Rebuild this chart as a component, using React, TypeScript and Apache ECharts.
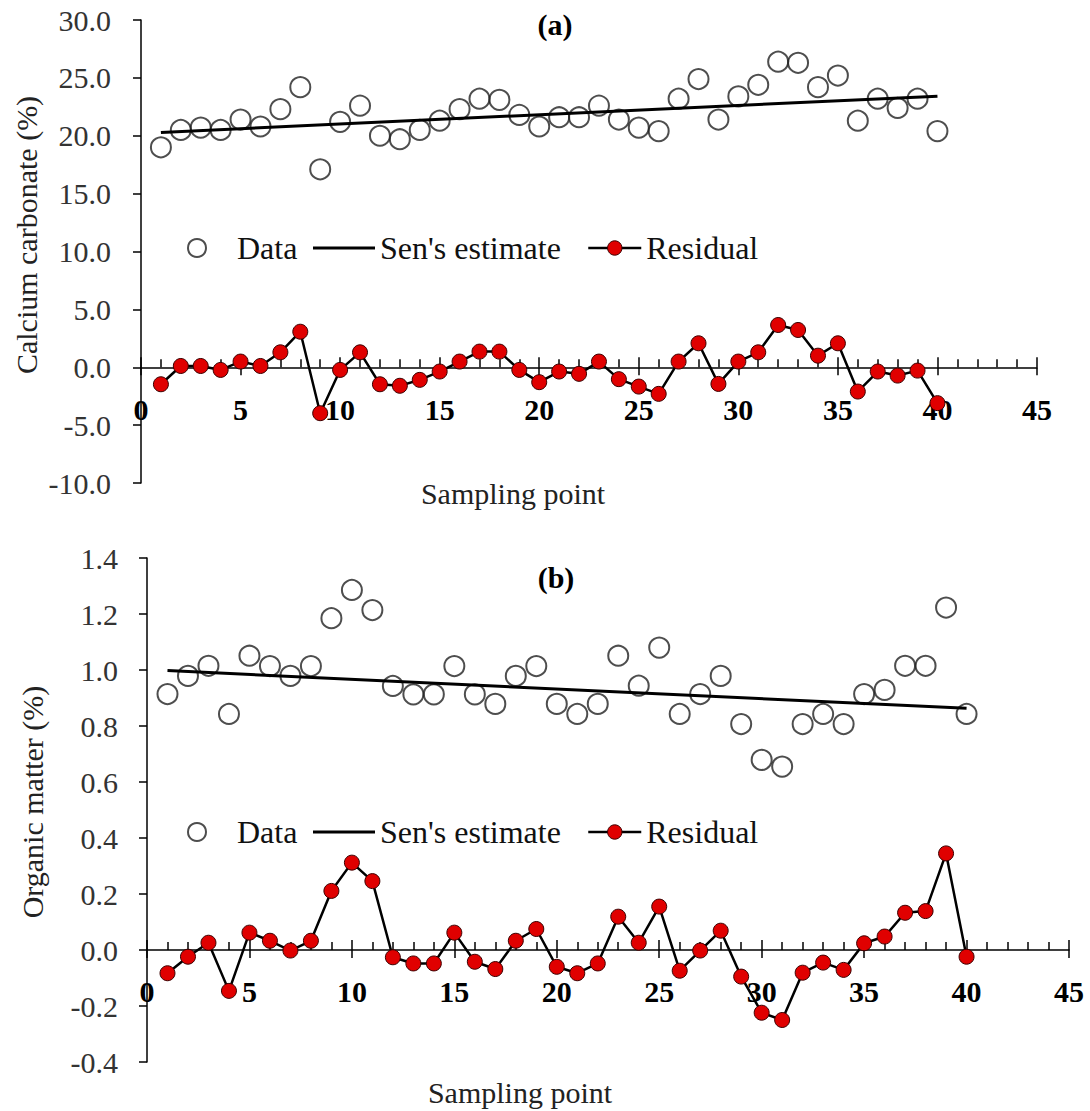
import React, { useEffect, useRef } from "react";
import * as echarts from "echarts";

const samplingPoints = [1, 2, 3, 4, 5, 6, 7, 8, 9, 10, 11, 12, 13, 14, 15, 16, 17, 18, 19, 20, 21, 22, 23, 24, 25, 26, 27, 28, 29, 30, 31, 32, 33, 34, 35, 36, 37, 38, 39, 40];

const caco3Data = [19.0, 20.5, 20.7, 20.5, 21.4, 20.8, 22.3, 24.2, 17.1, 21.2, 22.6, 20.0, 19.7, 20.5, 21.3, 22.3, 23.2, 23.1, 21.8, 20.8, 21.6, 21.6, 22.6, 21.4, 20.7, 20.4, 23.2, 24.9, 21.4, 23.4, 24.4, 26.4, 26.3, 24.2, 25.2, 21.3, 23.2, 22.4, 23.2, 20.4];
const caco3Residual = [-1.47, 0.11, 0.11, -0.23, 0.49, 0.11, 1.29, 3.07, -3.97, -0.23, 1.29, -1.47, -1.6, -1.09, -0.37, 0.49, 1.35, 1.35, -0.23, -1.29, -0.37, -0.57, 0.49, -1.03, -1.67, -2.3, 0.49, 2.07, -1.44, 0.49, 1.29, 3.65, 3.22, 1.0, 2.07, -2.1, -0.37, -0.72, -0.29, -3.1];
const caco3Sen = [[1, 20.29], [40, 23.42]];

const omData = [0.914, 0.979, 1.015, 0.843, 1.051, 1.014, 0.979, 1.014, 1.185, 1.286, 1.214, 0.943, 0.913, 0.913, 1.014, 0.913, 0.879, 0.979, 1.014, 0.879, 0.843, 0.879, 1.051, 0.944, 1.08, 0.843, 0.914, 0.979, 0.807, 0.679, 0.655, 0.807, 0.843, 0.807, 0.914, 0.929, 1.015, 1.015, 1.223, 0.843];
const omResidual = [-0.083, -0.024, 0.026, -0.146, 0.062, 0.033, -0.002, 0.033, 0.211, 0.312, 0.246, -0.026, -0.048, -0.048, 0.062, -0.042, -0.068, 0.033, 0.075, -0.06, -0.083, -0.048, 0.119, 0.026, 0.155, -0.074, -0.002, 0.069, -0.095, -0.224, -0.25, -0.081, -0.045, -0.071, 0.024, 0.048, 0.133, 0.139, 0.345, -0.024];
const omSen = [[1, 0.998], [40, 0.863]];

const xTicks = { min: 0, max: 45, interval: 5 };
const caco3Axis = { min: -10, max: 30, interval: 5 };
const omAxis = { min: -0.4, max: 1.4, interval: 0.2 };

const FONT = "'Liberation Serif', 'Times New Roman', serif";

function pairs(xs: number[], ys: number[]) {
  return xs.map((x, i) => [x, ys[i]]);
}

export default function App() {
  const ref = useRef<HTMLDivElement>(null);

  useEffect(() => {
    document.body.style.margin = "0";
    if (!ref.current) return;
    const chart = echarts.init(ref.current, null, { renderer: "svg" });

    const axisColor = "#000";
    const tickLine = { color: axisColor, width: 1.5 };

    // Plot areas (pixel layout) of the two panels
    const gA = { left: 141, top: 20, width: 896, height: 463 };
    const gB = { left: 147, top: 558, width: 922, height: 504 };
    // height of the part of each plot above the zero line
    const zeroA = (gA.height * caco3Axis.max) / (caco3Axis.max - caco3Axis.min);
    const zeroB = (gB.height * omAxis.max) / (omAxis.max - omAxis.min);

    const xAxesFor = (gridIndex: number, yIndex: number) => [
      {
        type: "value",
        gridIndex,
        ...xTicks,
        axisLine: { onZero: true, onZeroAxisIndex: yIndex, lineStyle: tickLine },
        axisTick: { show: true, inside: false, length: 8, lineStyle: tickLine },
        minorTick: { show: false },
        axisLabel: { show: false },
        splitLine: { show: false },
      },
      {
        type: "value",
        gridIndex,
        position: "top",
        ...xTicks,
        axisLine: { show: false, onZero: true, onZeroAxisIndex: yIndex },
        axisTick: { show: true, inside: false, length: 10, lineStyle: tickLine },
        minorTick: { show: true, splitNumber: 5, length: 8, lineStyle: tickLine },
        axisLabel: { show: false },
        splitLine: { show: false },
      },
    ];

    const labelXAxis = (gridIndex: number, margin: number) => ({
      type: "value",
      gridIndex,
      ...xTicks,
      axisLine: { show: false, onZero: false },
      axisTick: { show: false },
      axisLabel: { margin, fontSize: 30, fontFamily: FONT, fontWeight: "bold", color: "#000" },
      splitLine: { show: false },
    });

    const yAxisFor = (gridIndex: number, range: any, margin: number) => ({
      type: "value",
      gridIndex,
      ...range,
      axisLine: { show: true, onZero: false, lineStyle: tickLine },
      axisTick: { show: true, inside: false, length: 8, lineStyle: tickLine },
      axisLabel: {
        margin,
        fontSize: 30,
        fontFamily: FONT,
        color: "#333",
        formatter: (v: number) => v.toFixed(1),
      },
      splitLine: { show: false },
    });

    const hiddenY = (gridIndex: number) => ({
      type: "value",
      gridIndex,
      min: 0,
      max: 1,
      show: false,
      axisLine: { onZero: false },
    });

    const dataStyle = { color: "rgba(0,0,0,0)", borderColor: "#222", borderWidth: 2 };
    const resStyle = { color: "#e00000", borderColor: "#3a0000", borderWidth: 1 };

    const panelSeries = (xi: number, yi: number, data: number[], sen: number[][], res: number[]) => [
      {
        name: "Data",
        type: "scatter",
        xAxisIndex: xi,
        yAxisIndex: yi,
        symbol: "circle",
        symbolSize: 20,
        itemStyle: dataStyle,
        data: pairs(samplingPoints, data),
        z: 3,
      },
      {
        name: "Sen's estimate",
        type: "line",
        xAxisIndex: xi,
        yAxisIndex: yi,
        symbol: "none",
        color: "#000",
        lineStyle: { color: "#000", width: 3 },
        data: sen,
        z: 4,
      },
      {
        name: "Residual",
        type: "line",
        xAxisIndex: xi,
        yAxisIndex: yi,
        symbol: "circle",
        symbolSize: 15,
        showAllSymbol: true,
        color: "#e00000",
        itemStyle: resStyle,
        lineStyle: { color: "#000", width: 2.5 },
        data: pairs(samplingPoints, res),
        z: 5,
      },
    ];

    const legendText = { fontSize: 32, fontFamily: FONT, color: "#111", lineHeight: 30 };
    const legends = (cy: number) => [
      {
        data: ["Data"],
        left: 187,
        top: cy - 15,
        padding: 0,
        itemWidth: 70,
        itemHeight: 18,
        itemStyle: { color: "rgba(0,0,0,0)", borderColor: "#222", borderWidth: 2 },
        textStyle: legendText,
        selectedMode: false,
      },
      {
        data: [{ name: "Sen's estimate", icon: "path://M0,0H62V3H0Z" }],
        left: 313,
        top: cy - 15,
        padding: 0,
        itemWidth: 62,
        itemHeight: 18,
        itemStyle: { color: "#000", borderWidth: 0 },
        textStyle: legendText,
        selectedMode: false,
      },
      {
        data: ["Residual"],
        left: 587,
        top: cy - 15,
        padding: 0,
        itemWidth: 53,
        itemHeight: 18,
        itemStyle: resStyle,
        lineStyle: { color: "#000", width: 2.5 },
        textStyle: legendText,
        selectedMode: false,
      },
    ];

    const txt = (text: string, x: number, y: number, opts: any = {}) => ({
      type: "text",
      x,
      y,
      rotation: opts.rotation || 0,
      style: {
        text,
        fontSize: 30,
        fontFamily: FONT,
        fontWeight: opts.bold ? "bold" : "normal",
        fill: opts.fill || "#222",
        align: "center",
        verticalAlign: "middle",
      },
      z: 10,
    });

    chart.setOption({
      animation: false,
      backgroundColor: "#fff",
      grid: [
        { ...gA, containLabel: false },
        { ...gB, containLabel: false },
        { left: gA.left, top: gA.top, width: gA.width, height: zeroA, containLabel: false },
        { left: gB.left, top: gB.top, width: gB.width, height: zeroB, containLabel: false },
      ],
      xAxis: [...xAxesFor(0, 0), ...xAxesFor(1, 1), labelXAxis(2, 27), labelXAxis(3, 26)],
      yAxis: [yAxisFor(0, caco3Axis, 30), yAxisFor(1, omAxis, 29), hiddenY(2), hiddenY(3)],
      legend: [...legends(247), ...legends(831)],
      series: [
        ...panelSeries(0, 0, caco3Data, caco3Sen, caco3Residual),
        ...panelSeries(2, 1, omData, omSen, omResidual),
      ],
      graphic: [
        txt("(a)", 555, 24, { bold: true, fill: "#000" }),
        txt("(b)", 556, 577, { bold: true, fill: "#000" }),
        txt("Sampling point", 513, 493),
        txt("Sampling point", 520, 1092),
        txt("Calcium carbonate (%)", 26, 235, { rotation: Math.PI / 2 }),
        txt("Organic matter (%)", 32, 802, { rotation: Math.PI / 2 }),
      ],
    });

    return () => chart.dispose();
  }, []);

  return <div ref={ref} style={{ width: 1090, height: 1111 }} />;
}
